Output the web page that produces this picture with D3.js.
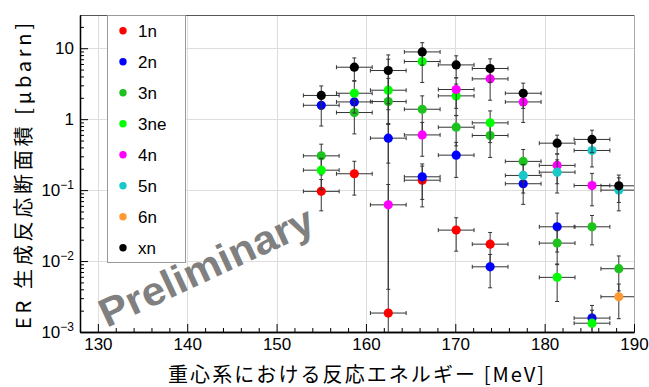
<!DOCTYPE html>
<html><head><meta charset="utf-8">
<script src="https://cdn.jsdelivr.net/npm/d3@7"></script>
<style>
body{margin:0;background:#fff;}
svg{display:block;font-family:"Liberation Sans",Arial,Helvetica,sans-serif;}
</style></head><body>
<svg id="chart" width="649" height="387"></svg>
<script>
// ---------------- data ----------------
const energies  = [155.0, 158.7, 162.5, 166.3, 170.1, 173.9, 177.6, 181.4, 185.3, 188.3];
const energyErr = [2, 2, 2, 2, 2, 2, 2, 2, 2, 2];

const seriesNames  = ["1n", "2n", "3n", "3ne", "4n", "5n", "6n", "xn"];
const seriesColors = ["#ff0000", "#0000ff", "#1ec21e", "#00ff00", "#ff00ff", "#19c8c8", "#ff9933", "#000000"];

const val1n  = [0.096, 0.170, 0.00185, 0.138, 0.0273, 0.0173, null, null, null, null];
const err1n  = [0.045, 0.085, 7.0, 0.08, 0.0135, 0.008, null, null, null, null];
const val2n  = [1.57, 1.75, 0.54, 0.154, 0.311, 0.0083, 0.123, 0.0304, 0.00157, null];
const err2n  = [0.77, 0.6, 0.3, 0.08, 0.16, 0.0041, 0.06, 0.017, 0.0008, null];
const val3n  = [0.304, 1.24, 1.77, 1.38, 0.77, 0.589, 0.254, 0.0179, 0.0304, 0.0078];
const err3n  = [0.14, 0.62, 0.9, 0.75, 0.35, 0.30, 0.12, 0.009, 0.0135, 0.004];
const val3ne = [0.191, 2.32, 2.56, 6.49, 2.13, 0.887, null, 0.00589, 0.00133, null];
const err3ne = [0.09, 1.1, 1.2, 3.2, 1.0, 0.42, null, 0.0032, 0.0007, null];
const val4n  = [null, null, 0.062, 0.60, 2.62, 3.70, 1.75, 0.223, 0.116, null];
const err4n  = [null, null, 0.058, 0.30, 1.2, 1.85, 0.85, 0.1, 0.056, null];
const val5n  = [null, null, null, null, null, null, 0.161, 0.179, 0.362, 0.100];
const err5n  = [null, null, null, null, null, null, 0.07, 0.088, 0.15, 0.049];
const val6n  = [null, null, null, null, null, null, null, null, null, 0.00314];
const err6n  = [null, null, null, null, null, null, null, null, null, 0.0016];
const valxn  = [2.16, 5.4, 4.85, 8.87, 5.82, 5.18, 2.32, 0.459, 0.518, 0.115];
const errxn  = [0.78, 1.9, 3.2, 3.1, 2.0, 1.9, 0.9, 0.136, 0.18, 0.048];

const xTicks = [130, 140, 150, 160, 170, 180, 190];
const yTickExponents = [-3, -2, -1, 0, 1];

const xTitle = "重心系における反応エネルギー [MeV]";
const yTitle = "ER 生成反応断面積 [μbarn]";
const watermark = "Preliminary";

// ---------------- build ----------------
const seriesVals = [val1n, val2n, val3n, val3ne, val4n, val5n, val6n, valxn];
const seriesErrs = [err1n, err2n, err3n, err3ne, err4n, err5n, err6n, errxn];
const series = seriesNames.map((n, i) => ({
  name: n, color: seriesColors[i],
  points: energies.map((e, j) => ({x: e, ex: energyErr[j], y: seriesVals[i][j], ey: seriesErrs[i][j]}))
                  .filter(p => p.y !== null)
}));

const W = 649, H = 387;
const L = 80, R = 634, T = 15, B = 332;
const svg = d3.select("#chart");

const x = d3.scaleLinear().domain([128, 190]).range([L, R]);
const y = d3.scaleLog().domain([1e-3, 29.4]).range([B, T]);

svg.append("rect").attr("width", W).attr("height", H).attr("fill", "#fff");

// grid
const grid = svg.append("g").attr("stroke", "#dedede").attr("stroke-width", 1);
grid.selectAll("line.gx").data(xTicks.filter(v => v < 190)).join("line")
  .attr("x1", d => Math.round(x(d)) + 0.5).attr("x2", d => Math.round(x(d)) + 0.5)
  .attr("y1", T).attr("y2", B);
grid.selectAll("line.gy").data(yTickExponents.map(e => Math.pow(10, e)).filter(v => v > 1e-3)).join("line")
  .attr("y1", d => Math.round(y(d)) + 0.5).attr("y2", d => Math.round(y(d)) + 0.5)
  .attr("x1", L).attr("x2", R);

// frame top / right
svg.append("line").attr("x1", L).attr("x2", R).attr("y1", T + 0.5).attr("y2", T + 0.5)
  .attr("stroke", "#555").attr("stroke-width", 1.2);
svg.append("line").attr("x1", R + 0.5).attr("x2", R + 0.5).attr("y1", T).attr("y2", B)
  .attr("stroke", "#aaa").attr("stroke-width", 1);

// watermark
svg.append("text")
  .attr("transform", "translate(212,279) rotate(-25)")
  .attr("text-anchor", "middle")
  .attr("font-size", 40).attr("font-weight", "bold")
  .attr("fill", "#808080")
  .attr("textLength", 232).attr("lengthAdjust", "spacingAndGlyphs")
  .text(watermark);

// axes
const xMinor = d3.range(128, 190.01, 2).filter(v => v % 10 !== 0);
const xAxis = svg.append("g").attr("transform", `translate(0,${B})`)
  .call(d3.axisBottom(x).tickValues(xTicks).tickSize(-8).tickPadding(6).tickSizeOuter(0).tickFormat(d3.format("d")));
svg.append("g").attr("transform", `translate(0,${B})`)
  .call(d3.axisBottom(x).tickValues(xMinor).tickSize(-4).tickSizeOuter(0).tickFormat(""));

const yMajor = yTickExponents.map(e => Math.pow(10, e));
const yMinor = [];
for (let e = -3; e <= 1; e++) for (let k = 2; k <= 9; k++) { const v = k * Math.pow(10, e); if (v <= 29.4) yMinor.push(v); }
const yAxis = svg.append("g").attr("transform", `translate(${L},0)`)
  .call(d3.axisLeft(y).tickValues(yMajor).tickSize(-8).tickSizeOuter(0).tickFormat(""));
svg.append("g").attr("transform", `translate(${L},0)`)
  .call(d3.axisLeft(y).tickValues(yMinor).tickSize(-4).tickSizeOuter(0).tickFormat(""));

svg.selectAll(".domain").attr("stroke", "#000").attr("stroke-width", 1.3);
svg.selectAll(".tick line").attr("stroke", "#000");
xAxis.selectAll("text").attr("font-size", 17).attr("fill", "#000")
  .attr("font-family", "'Liberation Sans',Arial,sans-serif");

// y tick labels with superscripts
const yl = svg.append("g").attr("font-size", 17).attr("fill", "#000").attr("text-anchor", "end");
yTickExponents.forEach(e => {
  const t = yl.append("text").attr("x", L - 6).attr("y", y(Math.pow(10, e)) + 6);
  if (e === 0) t.text("1");
  else if (e === 1) t.text("10");
  else {
    t.append("tspan").text("10");
    t.append("tspan").attr("font-size", 12).attr("dy", -7).text("\u2212" + (-e));
  }
});

// titles
svg.append("text").attr("x", 356).attr("y", 382).attr("text-anchor", "middle")
  .attr("font-size", 20).attr("font-family", "'Noto Sans CJK JP','Liberation Sans',sans-serif")
  .attr("textLength", 376).attr("lengthAdjust", "spacing")
  .text(xTitle);
svg.append("text").attr("transform", "translate(31,176) rotate(-90)").attr("text-anchor", "middle")
  .attr("font-size", 20).attr("font-family", "'Noto Sans CJK JP','Liberation Sans',sans-serif")
  .attr("textLength", 306).attr("lengthAdjust", "spacing")
  .text(yTitle);

// data
svg.append("clipPath").attr("id", "plotclip").append("rect")
  .attr("x", L).attr("y", T).attr("width", R - L).attr("height", B - T);
const plot = svg.append("g").attr("clip-path", "url(#plotclip)");
const cap = 2;
series.forEach(s => {
  const g = plot.append("g");
  const eb = g.append("g").attr("stroke", "#333").attr("stroke-width", 1).attr("fill", "none");
  s.points.forEach(p => {
    const cx = x(p.x), cy = y(p.y);
    const xl = x(p.x - p.ex), xr = x(p.x + p.ex);
    const yt = y(p.y + p.ey);
    const lo = p.y - p.ey;
    const yb = lo > 1e-5 ? y(lo) : B + 20;
    eb.append("line").attr("x1", xl).attr("x2", xr).attr("y1", cy).attr("y2", cy);
    eb.append("line").attr("x1", xl).attr("x2", xl).attr("y1", cy - cap).attr("y2", cy + cap);
    eb.append("line").attr("x1", xr).attr("x2", xr).attr("y1", cy - cap).attr("y2", cy + cap);
    eb.append("line").attr("x1", cx).attr("x2", cx).attr("y1", yt).attr("y2", yb);
    eb.append("line").attr("x1", cx - cap).attr("x2", cx + cap).attr("y1", yt).attr("y2", yt);
    eb.append("line").attr("x1", cx - cap).attr("x2", cx + cap).attr("y1", yb).attr("y2", yb);
  });
  g.selectAll("circle").data(s.points).join("circle")
    .attr("cx", d => x(d.x)).attr("cy", d => y(d.y)).attr("r", 4.6)
    .attr("fill", s.color);
});

// legend
const lg = svg.append("g");
lg.append("rect").attr("x", 107.5).attr("y", T + 0.5).attr("width", 78).attr("height", 247)
  .attr("fill", "#fff").attr("stroke", "#999").attr("stroke-width", 1);
series.forEach((s, i) => {
  const yy = 30.7 + i * 31.0;
  lg.append("circle").attr("cx", 123).attr("cy", yy).attr("r", 3.7).attr("fill", s.color);
  lg.append("text").attr("x", 138).attr("y", yy + 6).attr("font-size", 17).attr("fill", "#000").text(s.name);
});
</script>
</body></html>
